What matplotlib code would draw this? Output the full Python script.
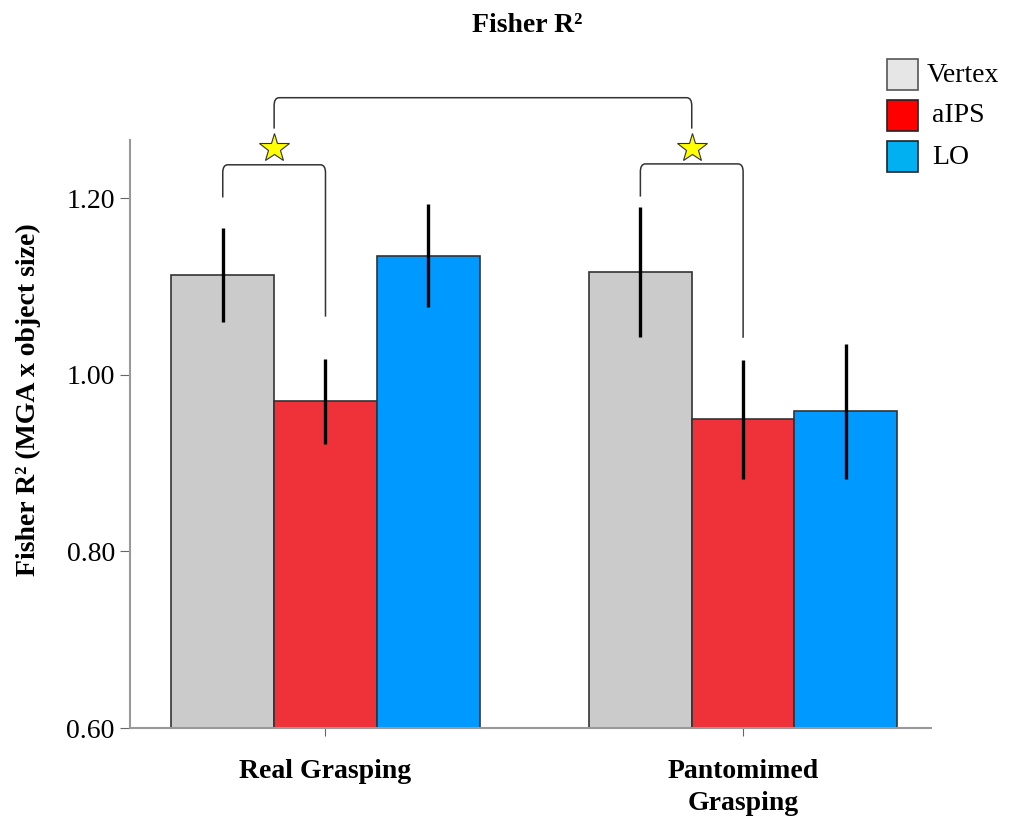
import numpy as np
import matplotlib.pyplot as plt
from matplotlib.path import Path
from matplotlib.patches import PathPatch, Rectangle

plt.rcParams['font.family'] = ['Liberation Serif', 'DejaVu Serif']

groups = ["Real Grasping", "Pantomimed\nGrasping"]
series = ["Vertex", "aIPS", "LO"]
means = {
    "Vertex": [1.113, 1.117],
    "aIPS": [0.970, 0.950],
    "LO": [1.135, 0.959],
}
err_low = {
    "Vertex": [1.060, 1.043],
    "aIPS": [0.922, 0.882],
    "LO": [1.077, 0.882],
}
err_high = {
    "Vertex": [1.166, 1.190],
    "aIPS": [1.018, 1.017],
    "LO": [1.194, 1.035],
}
bar_colors = {"Vertex": "#cbcbcb", "aIPS": "#ef323a", "LO": "#0099ff"}
legend_colors = {"Vertex": "#e6e6e6", "aIPS": "#ff0000", "LO": "#00b0f0"}
yticks = [0.60, 0.80, 1.00, 1.20]

fig = plt.figure(figsize=(10.12, 8.24), dpi=100)
ax = fig.add_axes([0.1285, 0.1165, 0.7915, 0.7135])

x = np.arange(len(groups))
w = 0.246
for i, s in enumerate(series):
    xs = x + (i - 1) * w
    m = np.array(means[s])
    ax.bar(xs, m - 0.6, w, bottom=0.6, color=bar_colors[s],
           edgecolor="#333333", linewidth=1.2, zorder=2)
    ax.vlines(xs, err_low[s], err_high[s], color="black", linewidth=2.4, zorder=3)

ax.set_xlim(-0.468, 1.45)
ax.set_ylim(0.6, 1.266)
ax.set_yticks(yticks)
ax.set_yticklabels(["%.2f" % v for v in yticks], fontsize=20)
ax.set_xticks(x)
ax.set_xticklabels(groups, fontsize=20, fontweight="bold", linespacing=1.4)
ax.tick_params(axis="x", length=6, color="#666666", pad=16)
ax.tick_params(axis="y", length=7, color="#666666", pad=4)
for sp in ["top", "right"]:
    ax.spines[sp].set_visible(False)
for sp in ["left", "bottom"]:
    ax.spines[sp].set_color("#999999")
    ax.spines[sp].set_linewidth(1.5)


def bracket(x1, x2, top, y1, y2):
    dx, dy = 0.012, 0.009
    verts = [(x1, y1), (x1, top - dy), (x1, top), (x1 + dx, top),
             (x2 - dx, top), (x2, top), (x2, top - dy), (x2, y2)]
    codes = [Path.MOVETO, Path.LINETO, Path.CURVE3, Path.CURVE3,
             Path.LINETO, Path.CURVE3, Path.CURVE3, Path.LINETO]
    ax.add_patch(PathPatch(Path(verts, codes), fill=False, edgecolor="#333333",
                           linewidth=1.1, clip_on=False, zorder=4))


# significance brackets: (left bar x, right bar x, top, left leg end, right leg end)
brackets = [
    (x[0] - w, x[0], 1.238, 1.201, 1.066),
    (x[1] - w, x[1], 1.239, 1.202, 1.042),
]
star_y = 1.257
for b in brackets:
    bracket(*b)
    ax.plot((b[0] + b[1]) / 2, star_y, marker="*", markersize=22,
            color="#ffff00", markeredgecolor="#333333", markeredgewidth=0.8,
            clip_on=False, zorder=5)
mid0 = (brackets[0][0] + brackets[0][1]) / 2
mid1 = (brackets[1][0] + brackets[1][1]) / 2
bracket(mid0, mid1, 1.314, 1.279, 1.279)

fig.text(0.521, 0.969, "Fisher R²", ha="center", va="center",
         fontsize=20, fontweight="bold")
fig.text(0.028, 0.515, "Fisher R² (MGA x object size)", rotation=90,
         ha="center", va="center", fontsize=20, fontweight="bold")

# legend
for i, s in enumerate(series):
    y0 = 824 - (59 + i * 41) - 31
    fig.patches.append(Rectangle((887 / 1012, y0 / 824), 31 / 1012, 31 / 824,
                                 transform=fig.transFigure, facecolor=legend_colors[s],
                                 edgecolor="#555555" if s == "Vertex" else "#222222",
                                 linewidth=1.2))
    fig.text((927 if i == 0 else 932) / 1012, (y0 + 15) / 824, s,
             ha="left", va="center", fontsize=20)

fig.savefig("out.png", dpi=100)
